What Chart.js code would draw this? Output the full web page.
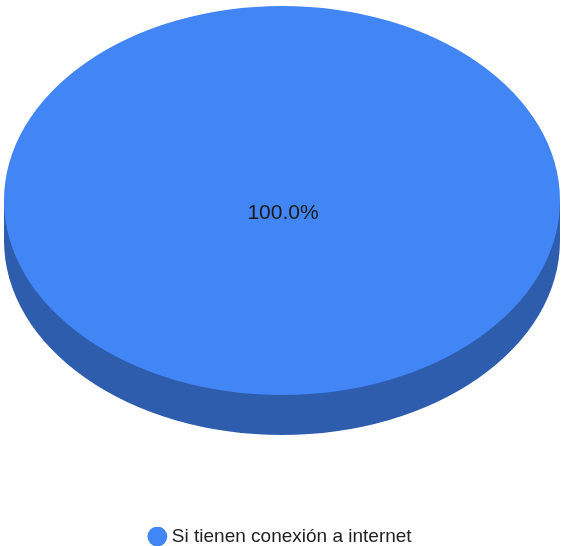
<!DOCTYPE html>
<html lang="es">
<head>
    <meta charset="UTF-8">
    <title>Conexión a internet</title>
    <script src="https://cdn.jsdelivr.net/npm/chart.js"></script>
    <style>
        html, body { margin: 0; padding: 0; background: #fff; }
        #wrap { width: 564px; height: 546px; }
    </style>
</head>
<body>
    <div id="wrap"><canvas id="pie"></canvas></div>
    <script>
        const categories = ['Si tienen conexión a internet'];
        const values = [100];
        const colors = ['#4285f4'];
        const sideColors = ['#2e5dad'];

        // look of the tilted disc
        const CX = 282, CY = 200.5, RX = 278, RY = 194.5, DEPTH = 40;

        const tilt = {
            id: 'tilt',
            beforeDatasetsDraw(chart) {
                const arc = chart.getDatasetMeta(0).data[0];
                const ctx = chart.ctx;
                const r = arc.outerRadius;
                ctx.save();
                // side of the disc
                ctx.fillStyle = sideColors[0];
                ctx.beginPath();
                ctx.ellipse(CX, CY + DEPTH, RX, RY, 0, 0, Math.PI * 2);
                ctx.fill();
                ctx.fillRect(CX - RX, CY, RX * 2, DEPTH);
                // squash the library's circle into the top face
                ctx.translate(CX, CY);
                ctx.scale(RX / r, RY / r);
                ctx.translate(-arc.x, -arc.y);
            },
            afterDatasetsDraw(chart) {
                const ctx = chart.ctx;
                ctx.restore();
                const total = values.reduce((a, b) => a + b, 0);
                const pct = (values[0] / total * 100).toFixed(1) + '%';
                ctx.save();
                ctx.fillStyle = '#1a1a1a';
                ctx.font = '21px "Liberation Sans", Arial, sans-serif';
                ctx.textAlign = 'center';
                ctx.textBaseline = 'middle';
                ctx.fillText(pct, CX + 1, CY + 13);
                ctx.restore();
            }
        };

        new Chart(document.getElementById('pie'), {
            type: 'pie',
            data: {
                labels: categories,
                datasets: [{
                    data: values,
                    backgroundColor: colors,
                    borderWidth: 0
                }]
            },
            options: {
                responsive: true,
                maintainAspectRatio: false,
                animation: false,
                layout: { padding: { bottom: -10 } },
                plugins: {
                    tooltip: { enabled: false },
                    legend: {
                        position: 'bottom',
                        labels: {
                            usePointStyle: true,
                            pointStyle: 'circle',
                            boxWidth: 10,
                            boxHeight: 14,
                            padding: 0,
                            color: '#222',
                            font: { family: '"Liberation Sans", Arial, sans-serif', size: 19 }
                        }
                    }
                }
            },
            plugins: [tilt]
        });
    </script>
</body>
</html>
